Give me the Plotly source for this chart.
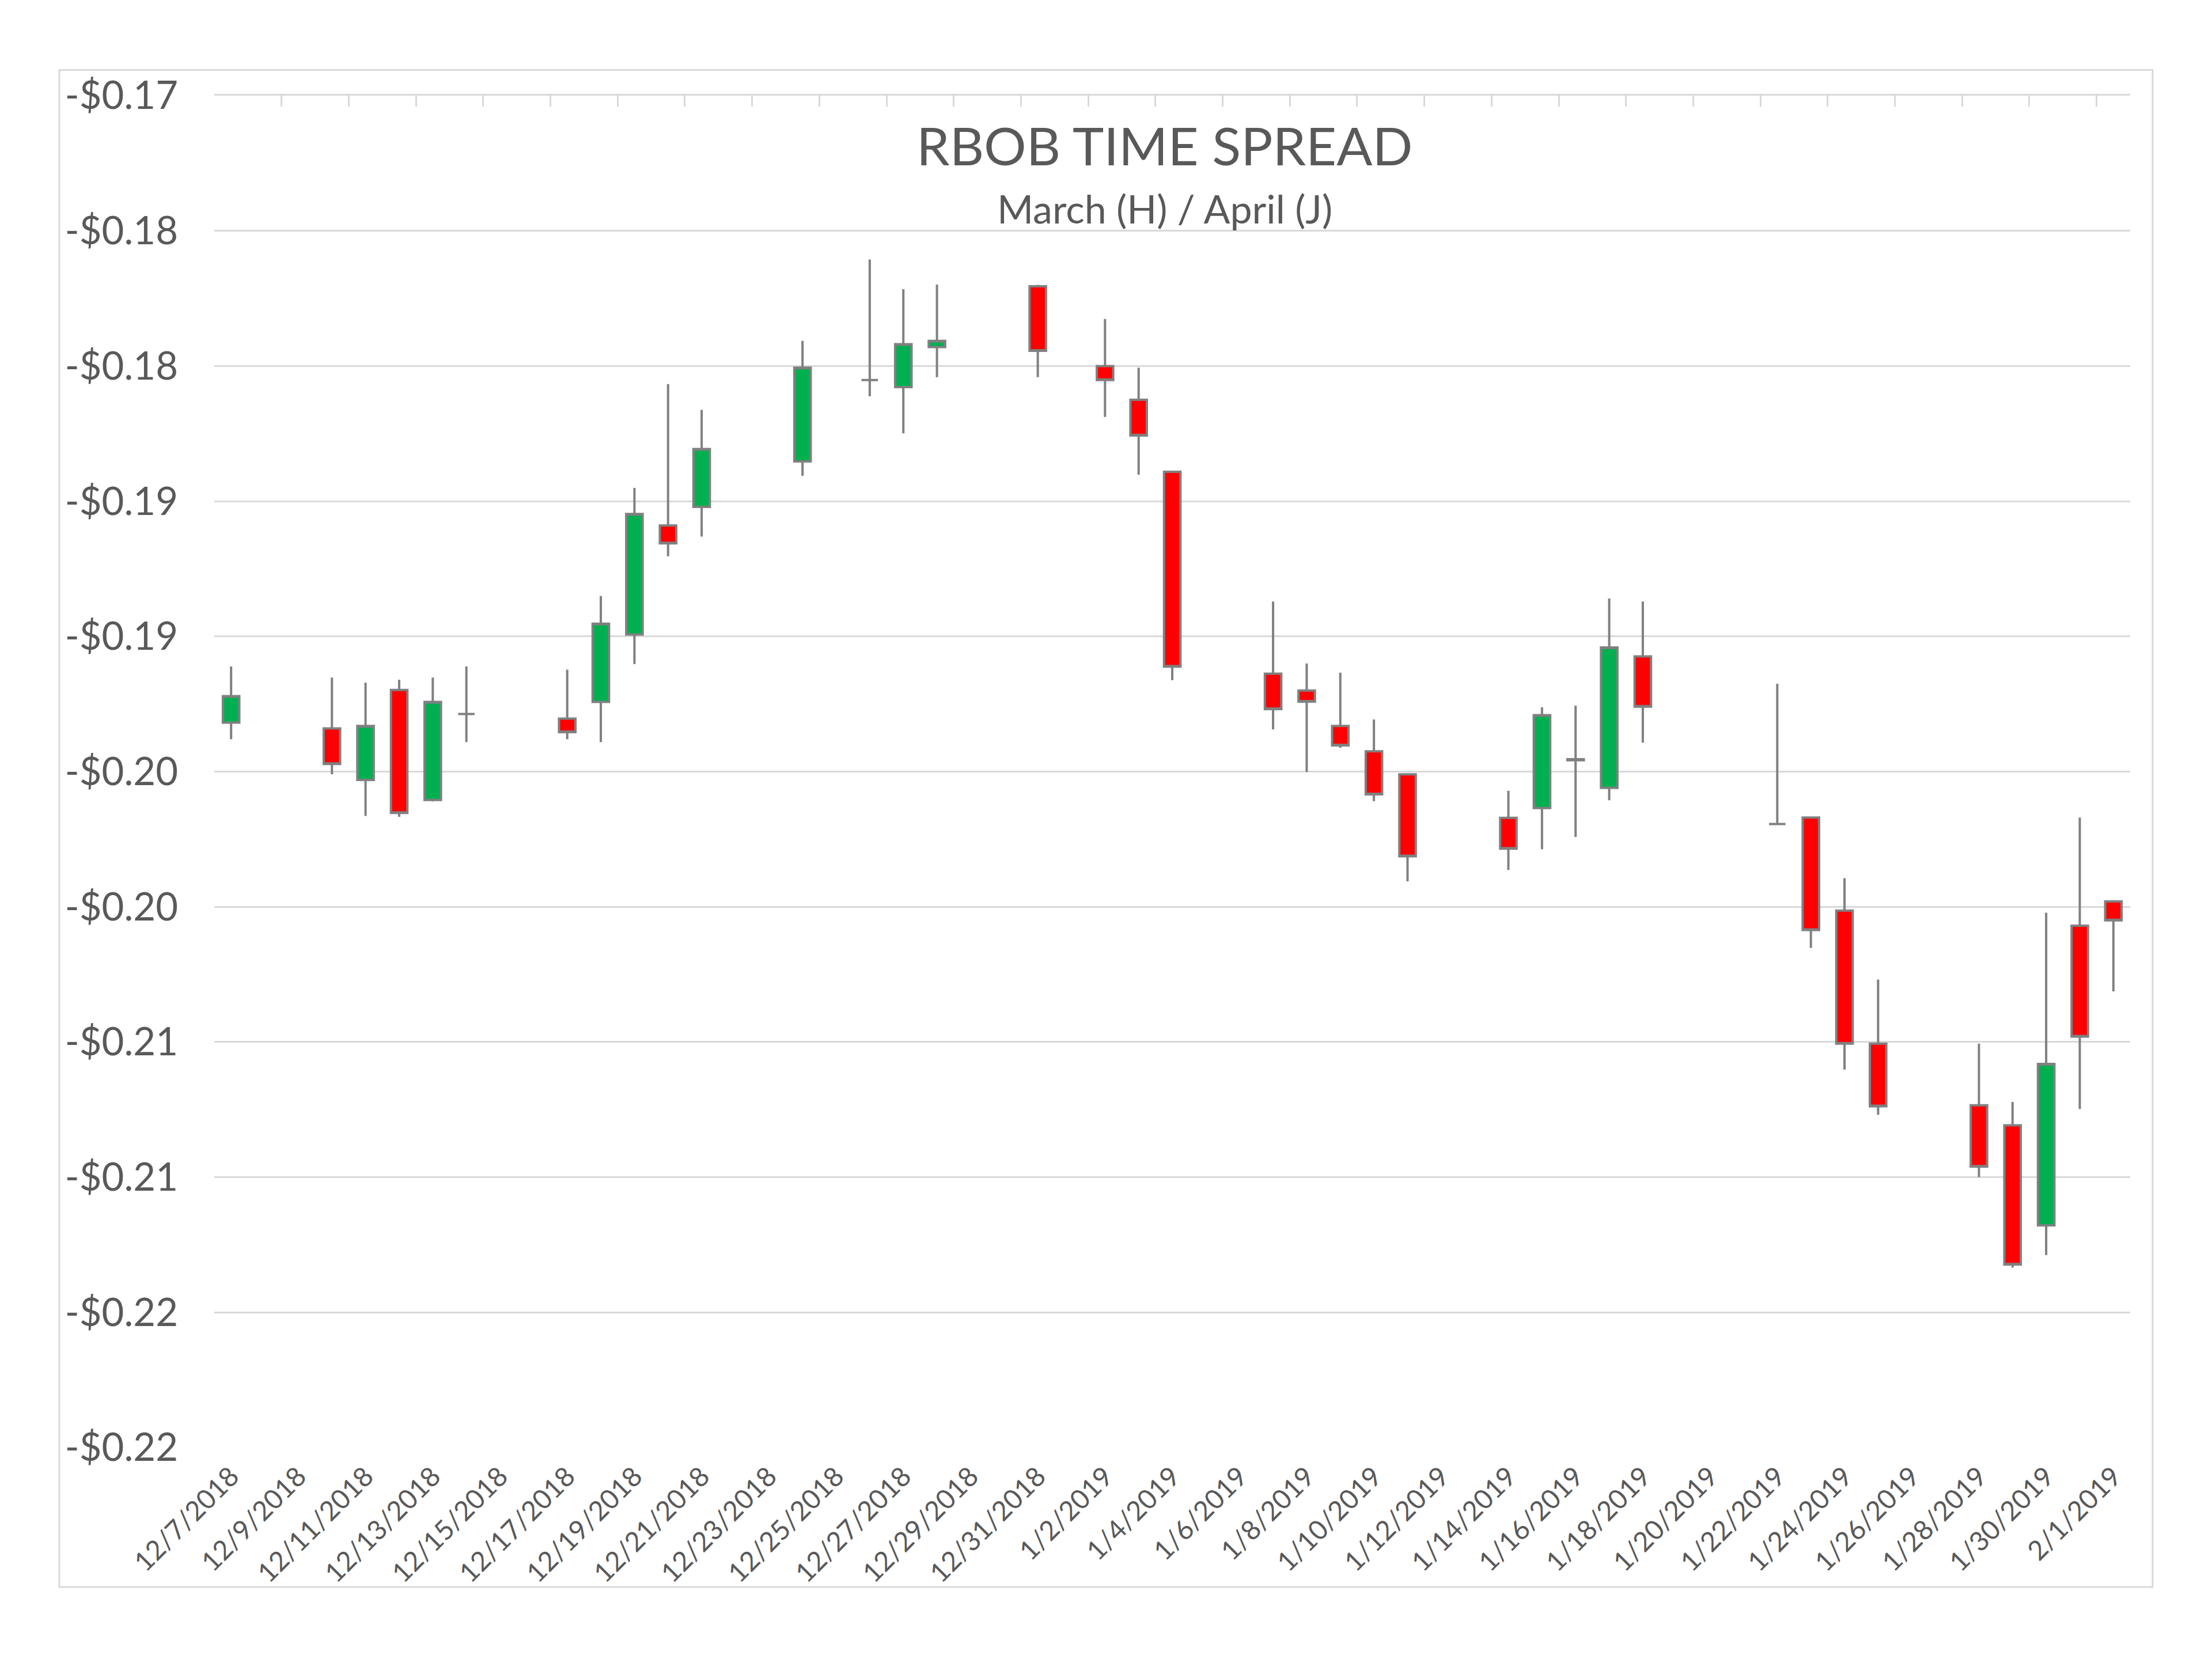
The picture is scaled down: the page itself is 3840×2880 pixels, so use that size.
import plotly.graph_objects as go

dates = ["2018-12-07", "2018-12-10", "2018-12-11", "2018-12-12", "2018-12-13", "2018-12-14",
         "2018-12-17", "2018-12-18", "2018-12-19", "2018-12-20", "2018-12-21", "2018-12-24",
         "2018-12-26", "2018-12-27", "2018-12-28", "2018-12-31", "2019-01-02", "2019-01-03",
         "2019-01-04", "2019-01-07", "2019-01-08", "2019-01-09", "2019-01-10", "2019-01-11",
         "2019-01-14", "2019-01-15", "2019-01-16", "2019-01-17", "2019-01-18", "2019-01-22",
         "2019-01-23", "2019-01-24", "2019-01-25", "2019-01-28", "2019-01-29", "2019-01-30",
         "2019-01-31", "2019-02-01"]

open_ = [-0.19319, -0.19340, -0.19531, -0.19198, -0.19605, -0.19287,
         -0.19304, -0.19242, -0.18993, -0.18590, -0.18521, -0.18353,
         -0.18052, -0.18078, -0.17930, -0.17705, -0.18000, -0.18125,
         -0.18391, -0.19138, -0.19200, -0.19331, -0.19425, -0.19510,
         -0.19671, -0.19635, -0.19454, -0.19560, -0.19074, -0.19694,
         -0.19670, -0.20014, -0.20506, -0.20734, -0.20808, -0.21178,
         -0.20070, -0.19980]
high = [-0.19111, -0.19152, -0.19171, -0.19160, -0.19152, -0.19111,
        -0.19123, -0.18851, -0.18451, -0.18067, -0.18162, -0.17907,
        -0.17606, -0.17716, -0.17699, -0.17700, -0.17826, -0.18006,
        -0.18388, -0.18871, -0.19100, -0.19134, -0.19307, -0.19506,
        -0.19571, -0.19262, -0.19256, -0.18860, -0.18871, -0.19175,
        -0.19668, -0.19894, -0.20269, -0.20506, -0.20722, -0.20022,
        -0.19670, -0.19978]
low = [-0.19380, -0.19510, -0.19664, -0.19667, -0.19610, -0.19391,
       -0.19380, -0.19391, -0.19102, -0.18704, -0.18631, -0.18406,
       -0.18112, -0.18249, -0.18041, -0.18041, -0.18188, -0.18402,
       -0.19162, -0.19344, -0.19501, -0.19412, -0.19609, -0.19906,
       -0.19864, -0.19787, -0.19742, -0.19606, -0.19393, -0.19697,
       -0.20152, -0.20602, -0.20769, -0.21000, -0.21334, -0.21288,
       -0.20748, -0.20313]
close = [-0.19221, -0.19472, -0.19331, -0.19653, -0.19242, -0.19287,
         -0.19354, -0.18953, -0.18547, -0.18656, -0.18307, -0.18006,
         -0.18052, -0.17919, -0.17907, -0.17944, -0.18052, -0.18257,
         -0.19112, -0.19269, -0.19241, -0.19403, -0.19584, -0.19813,
         -0.19785, -0.19291, -0.19458, -0.19041, -0.19260, -0.19694,
         -0.20086, -0.20506, -0.20738, -0.20961, -0.21323, -0.20581,
         -0.20480, -0.20050]

y_tickvals = [-0.170, -0.175, -0.180, -0.185, -0.190, -0.195, -0.200, -0.205, -0.210, -0.215, -0.220]
y_ticktext = ["-$0.17", "-$0.18", "-$0.18", "-$0.19", "-$0.19", "-$0.20",
              "-$0.20", "-$0.21", "-$0.21", "-$0.22", "-$0.22"]

x_tickvals = ["2018-12-07", "2018-12-09", "2018-12-11", "2018-12-13", "2018-12-15", "2018-12-17",
              "2018-12-19", "2018-12-21", "2018-12-23", "2018-12-25", "2018-12-27", "2018-12-29",
              "2018-12-31", "2019-01-02", "2019-01-04", "2019-01-06", "2019-01-08", "2019-01-10",
              "2019-01-12", "2019-01-14", "2019-01-16", "2019-01-18", "2019-01-20", "2019-01-22",
              "2019-01-24", "2019-01-26", "2019-01-28", "2019-01-30", "2019-02-01"]
x_ticktext = ["12/7/2018", "12/9/2018", "12/11/2018", "12/13/2018", "12/15/2018", "12/17/2018",
              "12/19/2018", "12/21/2018", "12/23/2018", "12/25/2018", "12/27/2018", "12/29/2018",
              "12/31/2018", "1/2/2019", "1/4/2019", "1/6/2019", "1/8/2019", "1/10/2019",
              "1/12/2019", "1/14/2019", "1/16/2019", "1/18/2019", "1/20/2019", "1/22/2019",
              "1/24/2019", "1/26/2019", "1/28/2019", "1/30/2019", "2/1/2019"]

# top-axis tick marks sit on category boundaries (every 2 days)
top_tickvals = ["2018-12-06 12:00", "2018-12-08 12:00", "2018-12-10 12:00", "2018-12-12 12:00",
                "2018-12-14 12:00", "2018-12-16 12:00", "2018-12-18 12:00", "2018-12-20 12:00",
                "2018-12-22 12:00", "2018-12-24 12:00", "2018-12-26 12:00", "2018-12-28 12:00",
                "2018-12-30 12:00", "2019-01-01 12:00", "2019-01-03 12:00", "2019-01-05 12:00",
                "2019-01-07 12:00", "2019-01-09 12:00", "2019-01-11 12:00", "2019-01-13 12:00",
                "2019-01-15 12:00", "2019-01-17 12:00", "2019-01-19 12:00", "2019-01-21 12:00",
                "2019-01-23 12:00", "2019-01-25 12:00", "2019-01-27 12:00", "2019-01-29 12:00",
                "2019-01-31 12:00"]

x_range = ["2018-12-06 12:00", "2019-02-01 12:00"]
y_range = [-0.22, -0.17]

FONT = "Lato, 'Open Sans', sans-serif"
TXT = "#595959"
GRID = "#d9d9d9"

fig = go.Figure()
fig.add_trace(go.Candlestick(
    x=dates, open=open_, high=high, low=low, close=close,
    increasing=dict(fillcolor="#00B050", line=dict(color="#808080", width=4)),
    decreasing=dict(fillcolor="#FF0000", line=dict(color="#808080", width=4)),
    whiskerwidth=0, showlegend=False, hoverinfo="x+y",
))
fig.add_trace(go.Scatter(x=[dates[0]], y=[None], xaxis="x2", yaxis="y",
                         mode="markers", marker=dict(opacity=0), showlegend=False,
                         hoverinfo="skip"))

fig.update_layout(
    width=3840, height=2880,
    paper_bgcolor="white", plot_bgcolor="white",
    margin=dict(l=372, r=142, t=166, b=367),
    font=dict(family=FONT, color=TXT),
    showlegend=False,
    xaxis=dict(
        type="date", range=x_range, rangeslider=dict(visible=False),
        tickmode="array", tickvals=x_tickvals, ticktext=x_ticktext,
        tickangle=-45, tickfont=dict(size=47, color=TXT, family=FONT),
        showgrid=False, zeroline=False, showline=False, ticks="",
        ticklabelstandoff=12,
    ),
    xaxis2=dict(
        type="date", range=x_range, overlaying="x", side="top", anchor="y",
        tickmode="array", tickvals=top_tickvals, showticklabels=False,
        ticks="inside", ticklen=19, tickwidth=3, tickcolor=GRID,
        showline=True, linecolor=GRID, linewidth=3, showgrid=False, zeroline=False,
    ),
    yaxis=dict(
        range=y_range, tickmode="array", tickvals=y_tickvals, ticktext=y_ticktext,
        tickfont=dict(size=67, color=TXT, family=FONT),
        showgrid=True, gridcolor=GRID, gridwidth=3, zeroline=False, showline=False,
        ticks="", ticklabelstandoff=62,
    ),
    shapes=[dict(type="rect", xref="paper", yref="paper",
                 x0=-0.0809, x1=1.0117, y0=-0.1031, y1=1.019,
                 line=dict(color=GRID, width=3), fillcolor="rgba(0,0,0,0)", layer="below")],
    annotations=[
        dict(text="RBOB TIME SPREAD", xref="paper", yref="paper", x=0.496, y=0.9636,
             xanchor="center", yanchor="middle", showarrow=False,
             font=dict(size=92, color=TXT, family=FONT)),
        dict(text="March (H) / April (J)", xref="paper", yref="paper", x=0.496, y=0.9167,
             xanchor="center", yanchor="middle", showarrow=False,
             font=dict(size=68, color=TXT, family=FONT)),
    ],
)

fig.write_html("out.html")
